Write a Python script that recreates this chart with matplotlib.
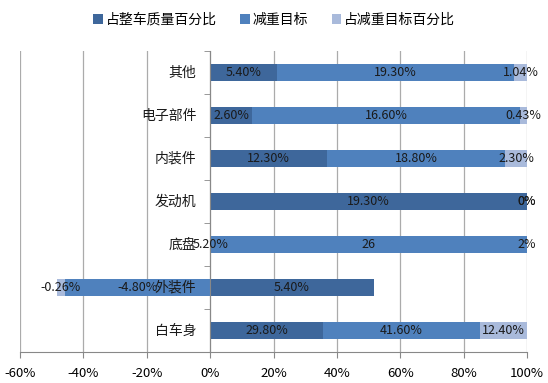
import numpy as np
import matplotlib.pyplot as plt

plt.rcParams['font.family'] = ['Noto Sans CJK SC', 'DejaVu Sans']

categories = ['其他', '电子部件', '内装件', '发动机', '底盘', '外装件', '白车身']
series_names = ['占整车质量百分比', '减重目标', '占减重目标百分比']

# raw values (fractions) as they sit in the sheet
share_of_car = [0.054, 0.026, 0.123, 0.193, 0.052, 0.054, 0.298]
target = [0.193, 0.166, 0.188, 0.0, 26, -0.048, 0.416]
share_of_target = [0.0104, 0.0043, 0.023, 0.0, 0.02, -0.0026, 0.124]

labels_car = ['5.40%', '2.60%', '12.30%', '19.30%', '5.20%', '5.40%', '29.80%']
labels_target = ['19.30%', '16.60%', '18.80%', '0%', '26', '-4.80%', '41.60%']
labels_share = ['1.04%', '0.43%', '2.30%', '0%', '2%', '-0.26%', '12.40%']

colors = ['#3E679B', '#4F81BD', '#A9BADB']

series = [share_of_car, target, share_of_target]
series_labels = [labels_car, labels_target, labels_share]

# 100% stacked: each value over the sum of absolute values of its row
vals = np.array(series, dtype=float)
tot = np.abs(vals).sum(axis=0)
pct = vals / tot * 100

n = len(categories)
ypos = np.arange(n)[::-1]

fig = plt.figure(figsize=(5.48, 3.83), dpi=100)
ax = fig.add_axes([20 / 548, 1 - 352 / 383, 507 / 548, 301 / 383])

pos_left = np.zeros(n)
neg_left = np.zeros(n)
for k in range(3):
    w = pct[k]
    left = np.where(w >= 0, pos_left, neg_left)
    ax.barh(ypos, w, left=left, height=0.4, color=colors[k],
            label=series_names[k], zorder=2)
    for i in range(n):
        cx = left[i] + w[i] / 2
        ax.text(cx, ypos[i], series_labels[k][i], ha='center', va='center',
                fontsize=9, color='#1a1a1a', zorder=5)
    pos_left = np.where(w >= 0, pos_left + w, pos_left)
    neg_left = np.where(w < 0, neg_left + w, neg_left)

# category names sit beside the axis at x = 0
for i in range(n):
    ax.text(-4.3, ypos[i], categories[i], ha='right', va='center',
            fontsize=10, color='#1a1a1a', zorder=6)

ax.set_xlim(-60, 100)
ax.set_ylim(-0.5, n - 0.5)
ax.set_xticks(np.arange(-60, 101, 20))
ax.set_xticklabels([f'{v}%' for v in range(-60, 101, 20)], fontsize=9.5)
ax.set_yticks([])
ax.set_yticks(np.arange(-0.5, n, 1), minor=True)
ax.tick_params(axis='y', which='minor', length=4, color='#888888', direction='out')
ax.tick_params(axis='x', length=4, color='#888888', pad=7)

ax.set_axisbelow(True)
ax.grid(axis='x', color='#ABABAB', linewidth=0.9)

ax.spines['left'].set_position(('data', 0))
ax.spines['left'].set_color('#888888')
ax.spines['bottom'].set_color('#888888')
ax.spines['top'].set_visible(False)
ax.spines['right'].set_visible(False)

fig.legend(loc='upper center', bbox_to_anchor=(0.5, 1.0), ncol=3, frameon=False,
           fontsize=10, handlelength=0.7, handleheight=0.7, handletextpad=0.2,
           columnspacing=1.7)

fig.savefig('out.png', dpi=100)
